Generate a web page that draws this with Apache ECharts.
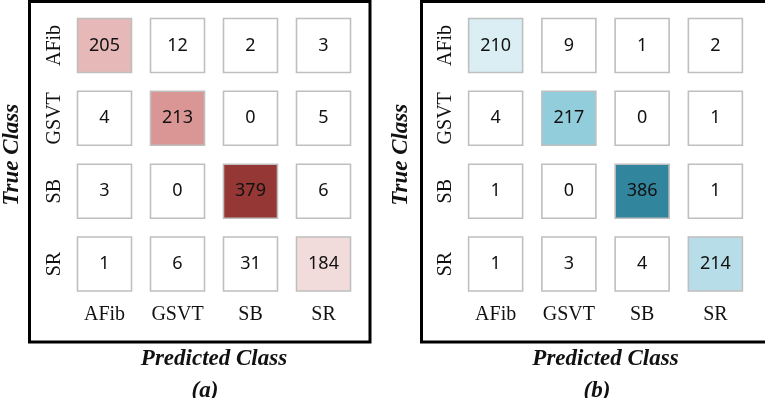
<!DOCTYPE html>
<html>
<head>
<meta charset="utf-8">
<script src="https://cdn.jsdelivr.net/npm/echarts@6/dist/echarts.min.js"></script>
<style>
html,body{margin:0;padding:0;background:#fff;}
#chart{width:765px;height:398px;}
</style>
</head>
<body>
<div id="chart"></div>
<script>
// ---- data ----
const predictedClasses = ['AFib', 'GSVT', 'SB', 'SR'];
const trueClasses = ['AFib', 'GSVT', 'SB', 'SR'];
// rows = true class, columns = predicted class
const matrixA = [
  [205, 12, 2, 3],
  [4, 213, 0, 5],
  [3, 0, 379, 6],
  [1, 6, 31, 184]
];
const matrixB = [
  [210, 9, 1, 2],
  [4, 217, 0, 1],
  [1, 0, 386, 1],
  [1, 3, 4, 214]
];
const panelLabels = ['(a)', '(b)'];
const xAxisName = 'Predicted Class';
const yAxisName = 'True Class';

// ---- styles ----
const paletteA = ['#f2dcdb', '#e6b8b7', '#d99694', '#953735']; // light -> dark by rank
const paletteB = ['#daeef3', '#b7dee8', '#92cddc', '#31859c'];

function toPoints(m) {
  const pts = [];
  m.forEach((row, r) => row.forEach((v, c) => pts.push([predictedClasses[c], trueClasses[r], v, r === c ? 1 : 0])));
  return pts;
}
function colorFn(matrix, palette) {
  const diag = matrix.map((row, i) => row[i]).slice().sort((a, b) => a - b);
  return function (p) {
    if (!p.data[3]) return '#ffffff';
    return palette[diag.indexOf(p.data[2])];
  };
}

const serif = '"Liberation Serif", "Times New Roman", serif';
const grids = [
  { left: 67, right: 765 - 360, top: 9, bottom: 398 - 300.5 },
  { left: 459, right: 13, top: 9, bottom: 398 - 300.5 }
];

function xAx(i) {
  return {
    type: 'category', gridIndex: i, data: predictedClasses, position: 'bottom',
    axisLine: { show: false }, axisTick: { show: false }, splitLine: { show: false },
    axisLabel: { fontFamily: serif, fontSize: 20, color: '#111', margin: 4 },
    name: xAxisName, nameLocation: 'middle', nameGap: 47,
    nameTextStyle: { fontFamily: serif, fontSize: 23, fontWeight: 'bold', fontStyle: 'italic', color: '#111' }
  };
}
function yAx(i, gap) {
  return {
    type: 'category', gridIndex: i, data: trueClasses, inverse: true,
    axisLine: { show: false }, axisTick: { show: false }, splitLine: { show: false },
    axisLabel: { fontFamily: serif, fontSize: 20, color: '#111', rotate: 90, margin: 3, align: 'center', verticalAlign: 'bottom' },
    name: yAxisName, nameLocation: 'middle', nameGap: gap, nameRotate: 90,
    nameTextStyle: { fontFamily: serif, fontSize: 23, fontWeight: 'bold', fontStyle: 'italic', color: '#111' }
  };
}
function series(i, m, pal) {
  return {
    type: 'scatter', xAxisIndex: i, yAxisIndex: i,
    data: toPoints(m), symbol: 'rect', symbolSize: 54,
    encode: { x: 0, y: 1 },
    itemStyle: { color: colorFn(m, pal), borderColor: '#bfbfbf', borderWidth: 1.6, opacity: 1 },
    label: {
      show: true, position: 'inside', formatter: p => p.data[2],
      fontFamily: '"Noto Sans", sans-serif', fontSize: 18, color: '#111'
    },
    emphasis: { disabled: true }, silent: true
  };
}

const chart = echarts.init(document.getElementById('chart'), null, { renderer: 'canvas' });
chart.setOption({
  backgroundColor: '#fff',
  animation: false,
  grid: grids,
  xAxis: [xAx(0), xAx(1)],
  yAxis: [yAx(0, 44), yAx(1, 46)],
  title: [
    { text: panelLabels[0], left: 200, top: 375, textAlign: 'center',
      textStyle: { fontFamily: serif, fontSize: 23, fontWeight: 'bold', fontStyle: 'italic', color: '#111' } },
    { text: panelLabels[1], left: 592, top: 375, textAlign: 'center',
      textStyle: { fontFamily: serif, fontSize: 23, fontWeight: 'bold', fontStyle: 'italic', color: '#111' } }
  ],
  graphic: [
    { type: 'rect', shape: { x: 29.5, y: 1.5, width: 340.5, height: 340.5 }, style: { fill: null, stroke: '#000', lineWidth: 3 }, silent: true },
    { type: 'rect', shape: { x: 421.5, y: 1.5, width: 345, height: 340.5 }, style: { fill: null, stroke: '#000', lineWidth: 3 }, silent: true }
  ],
  series: [series(0, matrixA, paletteA), series(1, matrixB, paletteB)]
});
</script>
</body>
</html>
